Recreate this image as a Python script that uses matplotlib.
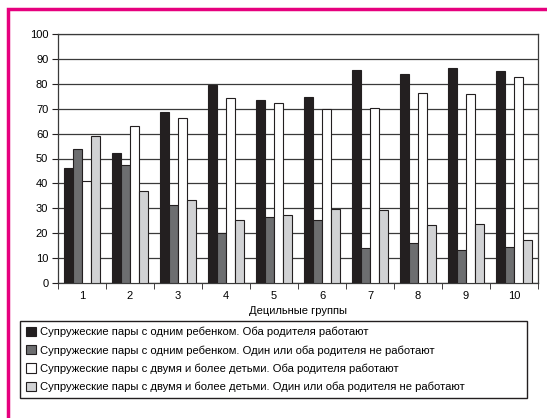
import matplotlib.pyplot as plt
import numpy as np
from matplotlib.patches import Rectangle

plt.rcParams['font.family'] = ['Liberation Sans', 'DejaVu Sans']
plt.rcParams['font.size'] = 8

groups = ["1", "2", "3", "4", "5", "6", "7", "8", "9", "10"]
one_both = [46, 52.3, 68.5, 79.7, 73.3, 74.5, 85.5, 83.8, 86.5, 85.1]
one_not = [54, 47.2, 31.3, 20, 26.4, 25.2, 14.2, 15.9, 13.3, 14.5]
two_both = [40.8, 63, 66.4, 74.3, 72.3, 69.8, 70.3, 76.3, 75.8, 82.6]
two_not = [59, 36.8, 33.4, 25.4, 27.4, 29.8, 29.5, 23.4, 23.5, 17.1]

labels = ["Супружеские пары с одним ребенком. Оба родителя работают",
          "Супружеские пары с одним ребенком. Один или оба родителя не работают",
          "Супружеские пары с двумя и более детьми. Оба родителя работают",
          "Супружеские пары с двумя и более детьми. Один или оба родителя не работают"]
colors = ["#231f20", "#6d6e70", "#ffffff", "#d1d2d4"]

fig = plt.figure(figsize=(5.47, 4.18), dpi=100)
ax = fig.add_axes([58/547, 1-283/418, 480/547, 249/418])

x = np.arange(len(groups))
w = 0.1875
series = [one_both, one_not, two_both, two_not]
for i, s in enumerate(series):
    ax.bar(x + (i-1.5)*w, s, w, color=colors[i], edgecolor="#231f20", lw=0.8, label=labels[i], zorder=3)

ax.set_xlim(-0.5, 9.5)
ax.set_ylim(0, 100)
ax.set_yticks(np.arange(0, 101, 10))
ax.yaxis.grid(True, color="#3a3a3a", lw=0.9, zorder=0)
ax.set_xticks(x)
ax.set_xticklabels(groups)
ax.set_xticks(np.arange(-0.5, 10, 1), minor=True)
ax.tick_params(axis="x", which="major", length=0, pad=6)
ax.tick_params(axis="x", which="minor", length=4, direction="out", color="#231f20")
ax.tick_params(axis="y", length=4, direction="out", color="#231f20", pad=3)
for sp in ax.spines.values():
    sp.set_color("#3a3a3a")
    sp.set_linewidth(0.9)
ax.set_xlabel("Децильные группы", labelpad=3)

fig.legend(loc="upper left", bbox_to_anchor=(20/547, 1-396/418, 507/547, 75/418), mode="expand",
           ncol=1, fancybox=False, edgecolor="#231f20", framealpha=1, handlelength=0.9, handleheight=0.9,
           handletextpad=0.4, labelspacing=0.7, borderaxespad=0, borderpad=0.5, fontsize=8.1)

fig.patches.append(Rectangle((8/547, -0.1), 1.2, 1-9/418+0.1, transform=fig.transFigure,
                             fill=False, edgecolor="#e6007e", lw=2.5, figure=fig))

plt.savefig("out.png", dpi=100)
